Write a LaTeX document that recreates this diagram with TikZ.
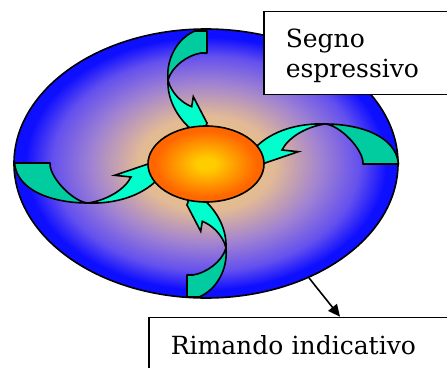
\documentclass[tikz,border=0pt]{standalone}
\usepackage{fontspec}
\setmainfont{DejaVu Serif}
\usetikzlibrary{arrows.meta,shapes.geometric}
\definecolor{fieldblue}{RGB}{15,15,255}
\definecolor{fieldtan}{RGB}{240,200,125}
\definecolor{fieldpeach}{RGB}{225,185,150}
\definecolor{fieldlilac}{RGB}{160,130,210}
\definecolor{fieldviolet}{RGB}{100,80,238}
\definecolor{coreyellow}{RGB}{255,204,0}
\definecolor{coreorange}{RGB}{255,102,0}
\definecolor{bandlight}{RGB}{0,255,204}
\definecolor{banddark}{RGB}{0,204,160}
\pgfdeclareradialshading{fieldshade}{\pgfpoint{0bp}{0bp}}{color(0bp)=(fieldtan); color(3bp)=(fieldtan); color(9bp)=(fieldpeach); color(15bp)=(fieldlilac); color(20bp)=(fieldviolet); color(23.5bp)=(fieldblue); color(50bp)=(fieldblue)}
\pgfdeclareradialshading{coreshade}{\pgfpoint{0bp}{0bp}}{color(0bp)=(coreyellow); color(4bp)=(coreyellow); color(22bp)=(coreorange); color(50bp)=(coreorange)}

\begin{document}
\begin{tikzpicture}[x=1pt,y=-1pt,>={Triangle[length=12pt,width=11pt]},line width=1.6pt,
    textbox/.style={draw,fill=white,anchor=north west,align=left,inner xsep=21.7pt,font=\fontsize{25}{30}\selectfont},
    backband/.style={draw,fill=banddark,line join=round},
    frontband/.style={draw,fill=bandlight,line join=miter}]
    \useasboundingbox (0,0) rectangle (447,367);
    \clip (0,0) rectangle (447,367);
    \node[draw,ellipse,shading=fieldshade,minimum width=384pt,minimum height=269pt,inner sep=0pt] (field) at (206,163.5) {};
    \foreach \turn in {0,180}{
      \begin{scope}[rotate around={\turn:(197,164)}]
        \draw[backband] (195,31) -- (207,31) -- (207,53) -- (201,53) .. controls (188,55) and (172,66) .. (168,80) .. controls (166,58) and (178,38) .. (195,31) -- cycle;
        \draw[frontband] (168,80) .. controls (167,102) and (180,120) .. (192,130) -- (204,132) -- (207,123) -- (193.3,96.7) -- (191.7,106.7) .. controls (182,103) and (171,93) .. (168,80) -- cycle;
      \end{scope}
      \begin{scope}[rotate around={\turn:(206.5,163.5)}]
        \draw[backband] (363,164) -- (398.5,164) .. controls (396,136) and (360,124) .. (325,124) .. controls (340,125) and (364,150) .. (363,164) -- cycle;
        \draw[frontband] (325,124) .. controls (300,123) and (272,130) .. (255,148) -- (256,166) -- (265,163) -- (298.3,151.7) -- (282,150) .. controls (288,138) and (305,127) .. (325,124) -- cycle;
      \end{scope}
    }
    \node[draw,ellipse,shading=coreshade,minimum width=116pt,minimum height=76pt,inner sep=0pt] (core) at (206,164) {};
    \node[textbox,text width=160pt,inner ysep=17pt,text depth=30.6pt] (sign) at (263.3,10.7) {Segno\\espressivo};
    \node[textbox,text width=280pt,inner ysep=17.6pt] (pointer) at (148.3,316.7) {Rimando indicativo};
    \draw[->] (field.-48.6) -- ([xshift=191.7pt]pointer.north west);
\end{tikzpicture}
\end{document}
